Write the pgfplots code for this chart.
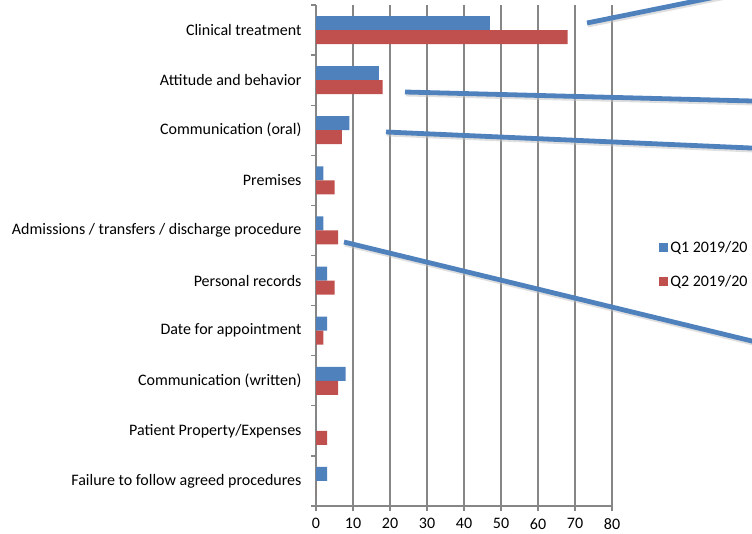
\documentclass[border=0pt]{standalone}
\usepackage{fontspec}
\setmainfont{Carlito}
\usepackage{pgfplots}
\pgfplotsset{compat=1.18}
\definecolor{qblue}{RGB}{79,129,189}
\definecolor{qred}{RGB}{192,80,77}
\definecolor{gridgray}{RGB}{134,134,134}
\newcommand{\lblfont}{\fontsize{16}{19}\selectfont}
\begin{document}
\begin{tikzpicture}
\useasboundingbox (0,0) rectangle (752pt,533pt);
\clip (0,0) rectangle (752pt,533pt);
\begin{axis}[
    at={(316pt,27pt)}, anchor=south west,
    scale only axis, width=296pt, height=501pt,
    xbar, bar width=14pt,
    xmin=0, xmax=80, ymin=-0.5, ymax=9.5, y dir=reverse,
    axis x line*=bottom, axis y line*=left,
    axis line style={gridgray, line width=1.5pt, -},
    xtick={0,10,...,80},
    ytick={0,...,9},
    yticklabels={Clinical treatment, Attitude and behavior, Communication (oral), Premises,
        Admissions / transfers / discharge procedure, Personal records, Date for appointment,
        Communication (written), Patient Property/Expenses, Failure to follow agreed procedures},
    minor ytick={-0.5,0.5,...,9.5},
    tick align=outside, major tick length=5pt, minor tick length=5pt,
    every major y tick/.style={draw=none},
    every minor y tick/.style={gridgray, line width=1.2pt},
    every major x tick/.style={gridgray, line width=1.2pt},
    xmajorgrids, major grid style={gridgray, line width=1.5pt},
    tick label style={font=\lblfont},
    /pgf/number format/assume math mode=true,
    yticklabel style={xshift=-6pt},
    xticklabel style={yshift=-4pt},
    legend style={draw=none, fill=none, at={(1.159,0.482)}, anchor=west,
        font=\lblfont, row sep=17pt, inner sep=0pt},
    legend cell align=left,
    legend image code/.code={\fill[#1] (0pt,-4.5pt) rectangle (9pt,4.5pt);},
]
\addplot[fill=qblue, draw=none, bar shift=7pt] coordinates {(47,0) (17,1) (9,2) (2,3) (2,4) (3,5) (3,6) (8,7) (0,8) (3,9)};
\addplot[fill=qred, draw=none, bar shift=-7pt] coordinates {(68,0) (18,1) (7,2) (5,3) (6,4) (5,5) (2,6) (6,7) (3,8) (0,9)};
\legend{Q1 2019/20, Q2 2019/20}
\end{axis}
% decorative callout lines from the source slide
\begin{scope}[x=1pt, y=1pt]
\foreach \x/\y/\u/\v in {587/510/760/545, 405/441/760/431.8, 386/401/760/384.6, 344/291/760/190} {
    \draw[black!25, opacity=0.5, line width=4.5pt] (\x+0.8,\y-2.2) -- (\u+0.8,\v-2.2);
    \draw[qblue, line width=4.8pt] (\x,\y) -- (\u,\v);
}
\end{scope}
\end{tikzpicture}
\end{document}
